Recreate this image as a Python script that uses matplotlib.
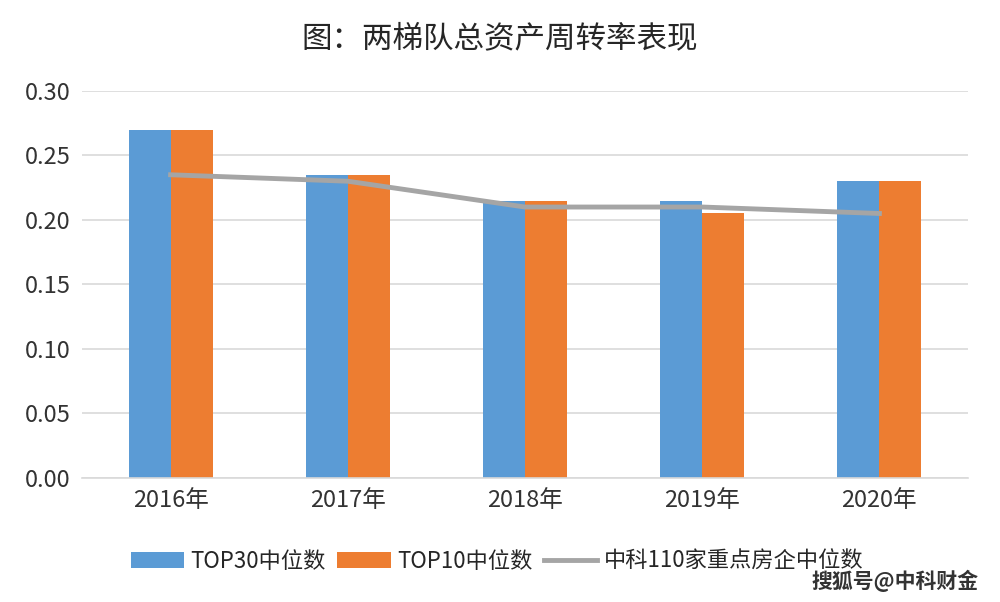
import matplotlib.pyplot as plt
import numpy as np

plt.rcParams['font.family'] = ['Noto Sans CJK SC', 'DejaVu Sans']

years = ["2016年", "2017年", "2018年", "2019年", "2020年"]
top30 = [0.27, 0.235, 0.215, 0.215, 0.23]
top10 = [0.27, 0.235, 0.215, 0.205, 0.23]
median110 = [0.235, 0.23, 0.21, 0.21, 0.205]

fig = plt.figure(figsize=(10, 6.02), dpi=100)
ax = fig.add_axes([0.082, 0.206, 0.886, 0.643])

x = np.arange(len(years))
w = 0.237
b1 = ax.bar(x - w / 2, top30, w, color="#5B9BD5", label="TOP30中位数", zorder=2)
b2 = ax.bar(x + w / 2, top10, w, color="#ED7D31", label="TOP10中位数", zorder=2)
l1, = ax.plot(x, median110, color="#A5A5A5", lw=3.5, label="中科110家重点房企中位数", zorder=3)

ax.set_xlim(-0.5, 4.5)
ax.set_ylim(0, 0.30)
ticks = np.arange(0, 0.31, 0.05)
ax.set_yticks(ticks)
ax.set_yticklabels([f"{v:.2f}" for v in ticks])
ax.set_xticks(x)
ax.set_xticklabels(years)
ax.grid(axis="y", color="#D9D9D9", lw=1.2, zorder=0)
for s in ["top", "right", "left"]:
    ax.spines[s].set_visible(False)
ax.spines["bottom"].set_color("#D9D9D9")
ax.spines["bottom"].set_linewidth(1.2)
ax.tick_params(axis="both", length=0, labelsize=17, colors="#333333", pad=8)

fig.text(0.5, 0.935, "图：两梯队总资产周转率表现", ha="center", va="center",
         fontsize=22, color="#262626")

fig.legend([b1, b2, l1], ["TOP30中位数", "TOP10中位数", "中科110家重点房企中位数"],
           loc="center", bbox_to_anchor=(0.497, 0.068), ncol=3, frameon=False,
           fontsize=16, handlelength=2.4, handleheight=0.75, columnspacing=0.5,
           handletextpad=0.3, labelcolor="#262626")

fig.text(0.895, 0.035, "搜狐号@中科财金", ha="center", va="center",
         fontsize=15, color="#333333", fontweight="bold")

fig.savefig("out.png", dpi=100)
